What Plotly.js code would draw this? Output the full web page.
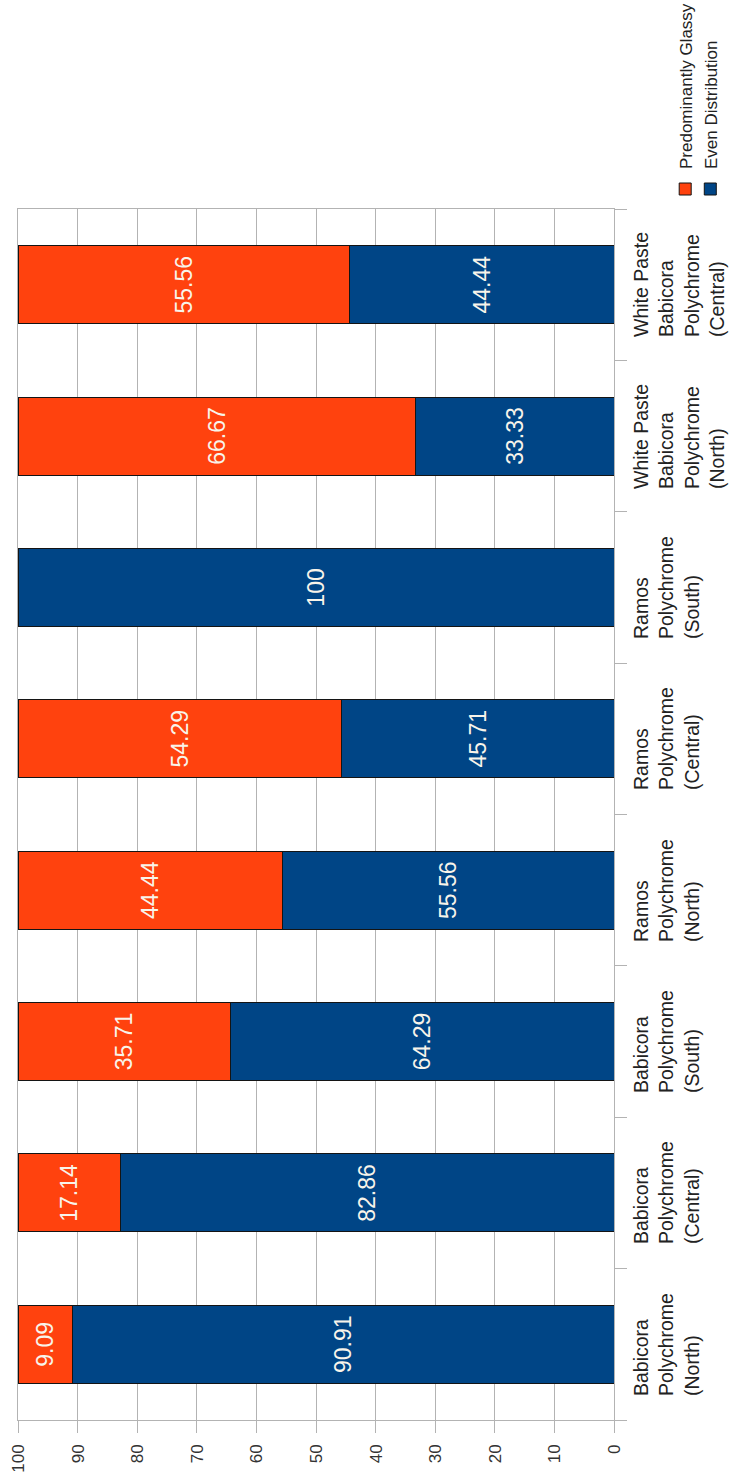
<!DOCTYPE html>
<html>
<head>
<meta charset="utf-8">
<script src="https://cdn.plot.ly/plotly-3.0.1.min.js"></script>
<style>
  html, body { margin: 0; padding: 0; background: #ffffff; overflow: hidden; }
  #page { position: relative; width: 736px; height: 1476px; overflow: hidden; }
  /* the column chart is laid out landscape and turned a quarter turn counter-clockwise */
  #chart {
    position: absolute; left: 0; top: 0;
    width: 1476px; height: 736px;
    transform-origin: 0 0;
    transform: translateY(1476px) rotate(-90deg);
  }
</style>
</head>
<body>
<div id="page"><div id="chart"></div></div>
<script>
// Pottery types
const categories = [
  "Babicora<br>Polychrome<br>(North)",
  "Babicora<br>Polychrome<br>(Central)",
  "Babicora<br>Polychrome<br>(South)",
  "Ramos<br>Polychrome<br>(North)",
  "Ramos<br>Polychrome<br>(Central)",
  "Ramos<br>Polychrome<br>(South)",
  "White Paste<br>Babicora<br>Polychrome<br>(North)",
  "White Paste<br>Babicora<br>Polychrome<br>(Central)"
];

// Percentages per type
const evenDistribution = [90.91, 82.86, 64.29, 55.56, 45.71, 100, 33.33, 44.44];
const predominantlyGlassy = [9.09, 17.14, 35.71, 44.44, 54.29, null, 66.67, 55.56];

// Value axis ticks
const valueTicks = [0, 10, 20, 30, 40, 50, 60, 70, 80, 90, 100];

const FONT = "Liberation Sans, Arial, Helvetica, sans-serif";
const BLUE = "#004586";
const ORANGE = "#ff420e";
const GRID = "#b3b3b3";

const labelOf = v => (v === null || v === undefined) ? "" : String(v);

const barText = {
  textposition: "inside",
  insidetextanchor: "middle",
  textangle: 0,
  constraintext: "none",
  textfont: { family: FONT, size: 23, color: "#f8f4ea" },
  hoverinfo: "skip"
};

const traces = [
  Object.assign({
    type: "bar",
    name: "Even Distribution",
    x: categories,
    y: evenDistribution,
    text: evenDistribution.map(labelOf),
    marker: { color: BLUE, line: { color: "#141414", width: 1 } }
  }, barText),
  Object.assign({
    type: "bar",
    name: "Predominantly Glassy",
    x: categories,
    y: predominantlyGlassy,
    text: predominantlyGlassy.map(labelOf),
    marker: { color: ORANGE, line: { color: "#141414", width: 1 } }
  }, barText)
];

// Category names written under the axis, lines aligned to the left
const categoryLabels = categories.map(c => ({
  x: c,
  xref: "x",
  y: 0,
  yref: "paper",
  yanchor: "top",
  xanchor: "center",
  yshift: -14,
  align: "left",
  showarrow: false,
  text: c,
  font: { family: FONT, size: 19.5, color: "#222222" }
}));

const layout = {
  width: 1476,
  height: 736,
  margin: { l: 56, r: 209, t: 18, b: 122, pad: 0, autoexpand: false },
  paper_bgcolor: "#ffffff",
  plot_bgcolor: "#ffffff",
  barmode: "stack",
  bargap: 0.485,
  showlegend: true,
  legend: {
    x: 1.0,
    xanchor: "left",
    y: -0.09,
    yanchor: "top",
    traceorder: "reversed",
    orientation: "v",
    itemwidth: 30,
    bgcolor: "rgba(0,0,0,0)",
    font: { family: FONT, size: 17, color: "#222222" }
  },
  xaxis: {
    type: "category",
    showticklabels: false,
    showgrid: false,
    showline: true,
    linecolor: GRID,
    linewidth: 1,
    mirror: true,
    ticks: "outside",
    tickson: "boundaries",
    ticklen: 12,
    tickcolor: GRID,
    fixedrange: true
  },
  yaxis: {
    range: [0, 100],
    tickvals: valueTicks,
    ticktext: valueTicks.map(String),
    showgrid: true,
    gridcolor: GRID,
    gridwidth: 1,
    zeroline: false,
    showline: true,
    linecolor: GRID,
    linewidth: 1,
    mirror: true,
    ticks: "outside",
    ticklen: 12,
    tickcolor: GRID,
    ticklabelstandoff: 8,
    tickfont: { family: FONT, size: 17, color: "#333333" },
    fixedrange: true
  },
  annotations: categoryLabels,
  font: { family: FONT }
};

Plotly.newPlot("chart", traces, layout, { staticPlot: true, displayModeBar: false });
</script>
</body>
</html>
